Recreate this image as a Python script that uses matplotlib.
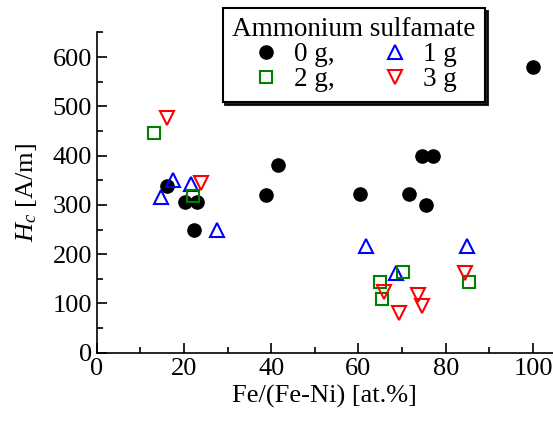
import numpy as np
import matplotlib.pyplot as plt

plt.rcParams['font.family'] = ['Liberation Serif', 'DejaVu Serif']
plt.rcParams['mathtext.fontset'] = 'custom'
plt.rcParams['mathtext.it'] = 'Liberation Serif:italic'
plt.rcParams['mathtext.rm'] = 'Liberation Serif'

# 0 g ammonium sulfamate
x0 = [16.1, 20.3, 23.0, 22.3, 38.9, 41.6, 60.3, 71.6, 75.5, 74.5, 77.1, 99.9]
y0 = [338, 306, 306, 249, 321, 380, 323, 323, 300, 400, 400, 580]
# 1 g
x1 = [14.7, 17.5, 21.5, 27.5, 61.7, 68.5, 84.8]
y1 = [317, 350, 342, 250, 217, 162, 217]
# 2 g
x2 = [13.1, 22.1, 64.9, 65.4, 70.3, 85.3]
y2 = [445, 319, 143, 109, 163, 143]
# 3 g
x3 = [16.1, 24.0, 65.8, 69.3, 73.6, 74.5, 84.4]
y3 = [476, 344, 124, 80, 117, 95, 161]

fig = plt.figure(figsize=(5.53, 4.26), dpi=100)
ax = fig.add_axes([0.175, 0.172, 0.825, 0.753])

h0, = ax.plot(x0, y0, 'o', color='black', ms=9.5, ls='none', label='0 g,')
h1, = ax.plot(x1, y1, '^', mfc='none', mec='blue', mew=1.5, ms=10, ls='none', label='1 g')
h2, = ax.plot(x2, y2, 's', mfc='none', mec='green', mew=1.5, ms=8.5, ls='none', label='2 g,')
h3, = ax.plot(x3, y3, 'v', mfc='none', mec='red', mew=1.5, ms=10, ls='none', label='3 g')

ax.set_xlim(0, 104.6)
ax.set_ylim(0, 651)
ax.set_xticks(np.arange(0, 101, 20))
ax.set_xticks(np.arange(10, 101, 20), minor=True)
ax.set_yticks(np.arange(0, 601, 100))
ax.set_yticks(np.arange(50, 651, 100), minor=True)
ax.tick_params(which='both', direction='in', labelsize=19, width=1.2)
ax.tick_params(which='major', length=7)
ax.tick_params(which='minor', length=4)
for s in ['top', 'right']:
    ax.spines[s].set_visible(False)
for s in ['left', 'bottom']:
    ax.spines[s].set_linewidth(1.2)

ax.set_xlabel('Fe/(Fe-Ni) [at.%]', fontsize=19)
ax.set_ylabel('$H_c$ [A/m]', fontsize=19, labelpad=10)

leg = ax.legend([h0, h2, h1, h3], ['0 g,', '2 g,', '1 g', '3 g'], ncol=2,
                title='Ammonium sulfamate', fontsize=19.5, title_fontsize=19.5,
                loc='upper left', bbox_to_anchor=(0.276, 1.075), borderaxespad=0,
                fancybox=False, shadow={'color': 'black', 'alpha': 0.85},
                edgecolor='black', framealpha=1, handletextpad=0.5,
                columnspacing=1.65, labelspacing=0.0, borderpad=0.35,
                handlelength=1.1)
leg.get_frame().set_linewidth(1.5)

fig.savefig('out.png', dpi=100)
